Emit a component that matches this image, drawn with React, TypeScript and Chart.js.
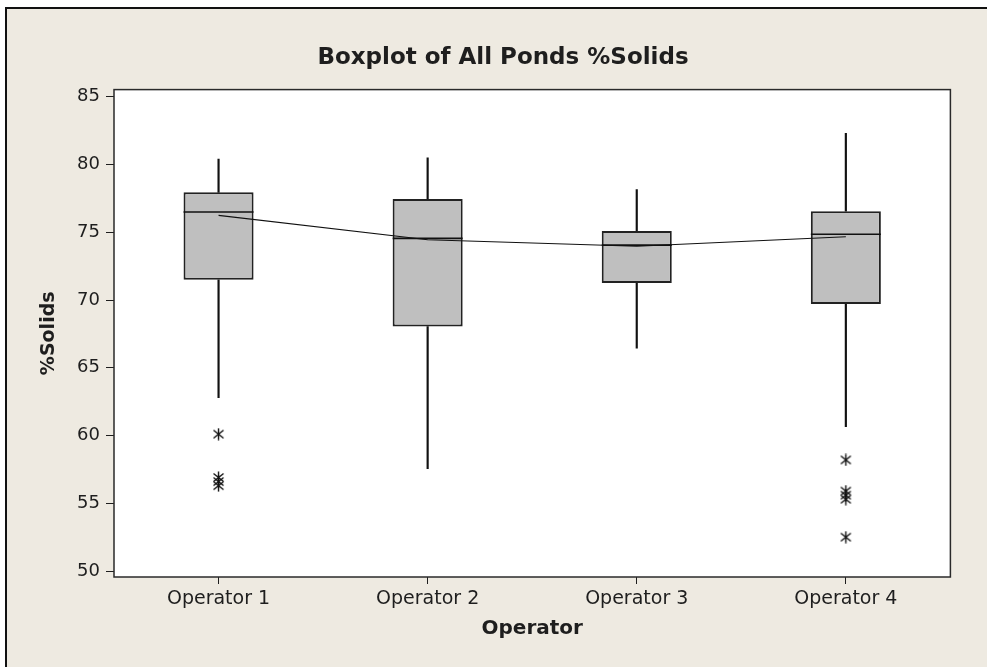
import { useEffect, useRef } from "react";
import { Chart, registerables } from "chart.js";

Chart.register(...registerables);

const categories = ["Operator 1", "Operator 2", "Operator 3", "Operator 4"];
const whiskerLow = [62.8, 57.55, 66.45, 60.65];
const q1 = [71.5, 68.05, 71.25, 69.7];
const medians = [76.5, 74.55, 74.05, 74.85];
const q3 = [77.95, 77.45, 75.1, 76.55];
const whiskerHigh = [80.4, 80.5, 78.15, 82.3];
const means = [76.25, 74.45, 73.97, 74.67];
const outlierCategory = [
  "Operator 1", "Operator 1", "Operator 1", "Operator 1",
  "Operator 4", "Operator 4", "Operator 4", "Operator 4", "Operator 4",
];
const outlierValues = [60.1, 56.9, 56.6, 56.3, 58.2, 55.9, 55.6, 55.3, 52.5];
const yTicks = [50, 55, 60, 65, 70, 75, 80, 85];

const FONT = "'DejaVu Sans', sans-serif";
const INK = "#1e1e1e";

function makeAsterisk(): HTMLCanvasElement {
  const c = document.createElement("canvas");
  c.width = 13;
  c.height = 13;
  const g = c.getContext("2d")!;
  g.strokeStyle = "#111";
  g.lineWidth = 1.4;
  g.beginPath();
  g.moveTo(6.5, 0.5);
  g.lineTo(6.5, 12.5);
  g.moveTo(1.5, 2.5);
  g.lineTo(11.5, 10.5);
  g.moveTo(11.5, 2.5);
  g.lineTo(1.5, 10.5);
  g.stroke();
  return c;
}

const framePlugin = {
  id: "frame",
  beforeDatasetsDraw(chart: any) {
    const { ctx, chartArea: a } = chart;
    ctx.save();
    ctx.fillStyle = "#ffffff";
    ctx.fillRect(a.left, a.top, a.right - a.left, a.bottom - a.top);
    ctx.strokeStyle = "#2a2a2a";
    ctx.lineWidth = 1.5;
    ctx.strokeRect(a.left, a.top, a.right - a.left, a.bottom - a.top);
    ctx.restore();
  },
};

export default function App() {
  const ref = useRef<HTMLCanvasElement | null>(null);

  useEffect(() => {
    if (!ref.current) return;
    const star = makeAsterisk();
    const chart = new Chart(ref.current, {
      type: "bar",
      data: {
        labels: categories,
        datasets: [
          {
            type: "bar",
            label: "Upper whisker",
            data: categories.map((_, i) => [q3[i], whiskerHigh[i]]) as any,
            backgroundColor: "#111",
            borderWidth: 0,
            barThickness: 1.5,
            grouped: false,
            order: 6,
          } as any,
          {
            type: "bar",
            label: "Lower whisker",
            data: categories.map((_, i) => [whiskerLow[i], q1[i]]) as any,
            backgroundColor: "#111",
            borderWidth: 0,
            barThickness: 1.5,
            grouped: false,
            order: 6,
          } as any,
          {
            type: "bar",
            label: "IQR box",
            data: categories.map((_, i) => [q1[i], q3[i]]) as any,
            backgroundColor: "#bfbfbf",
            borderColor: "#222",
            borderWidth: 2,
            borderSkipped: false,
            barPercentage: 0.335,
            categoryPercentage: 1,
            grouped: false,
            order: 5,
          } as any,
          {
            type: "line",
            label: "Median",
            data: medians,
            showLine: false,
            pointStyle: "line",
            pointRadius: 35,
            pointHoverRadius: 35,
            pointBorderColor: "#111",
            pointBorderWidth: 1.6,
            order: 2,
          } as any,
          {
            type: "line",
            label: "Mean",
            data: means,
            borderColor: "#111",
            borderWidth: 1.1,
            tension: 0,
            pointRadius: 0,
            order: 1,
          } as any,
          {
            type: "line",
            label: "Outliers",
            data: outlierValues.map((v, i) => ({ x: outlierCategory[i], y: v })),
            showLine: false,
            pointStyle: star,
            pointRadius: 6,
            order: 1,
          } as any,
        ],
      },
      options: {
        responsive: false,
        animation: false,
        events: [],
        layout: { padding: { left: 48, right: 36, top: 0, bottom: 0 } },
        plugins: {
          legend: { display: false },
          tooltip: { enabled: false },
          title: {
            display: true,
            text: "Boxplot of All Ponds %Solids",
            color: INK,
            font: { family: FONT, size: 23, weight: "bold" },
            padding: { top: 35, bottom: 18 },
          },
        },
        scales: {
          x: {
            type: "category",
            offset: true,
            grid: {
              display: true,
              offset: false,
              drawOnChartArea: false,
              drawTicks: true,
              tickLength: 7,
              color: INK,
              lineWidth: 1,
            },
            border: { display: false },
            ticks: {
              color: INK,
              font: { family: FONT, size: 19 },
              padding: 4,
              maxRotation: 0,
            },
            title: {
              display: true,
              text: "Operator",
              color: INK,
              font: { family: FONT, size: 20, weight: "bold" },
              padding: { top: 2, bottom: 26 },
            },
            afterFit(scale: any) {
              scale.height = 90;
            },
          },
          y: {
            type: "linear",
            min: 49.56,
            max: 85.53,
            grid: {
              display: true,
              drawOnChartArea: false,
              drawTicks: true,
              tickLength: 8,
              color: INK,
              lineWidth: 1,
            },
            border: { display: false },
            ticks: {
              color: INK,
              font: { family: FONT, size: 18 },
              padding: 6,
            },
            afterBuildTicks(scale: any) {
              scale.ticks = yTicks.map((v) => ({ value: v }));
            },
            title: {
              display: true,
              text: "%Solids",
              color: INK,
              font: { family: FONT, size: 19, weight: "bold" },
              padding: { top: -17, bottom: 0 },
            },
            afterFit(scale: any) {
              scale.width = 59;
            },
          },
        },
      },
      plugins: [framePlugin],
    });
    return () => chart.destroy();
  }, []);

  return (
    <div
      style={{
        position: "absolute",
        left: 5,
        top: 7,
        width: 982,
        height: 660,
        boxSizing: "border-box",
        borderTop: "2px solid #111",
        borderLeft: "2px solid #111",
        background: "#eeeae1",
      }}
    >
      <canvas ref={ref} width={980} height={658} style={{ display: "block" }} />
    </div>
  );
}
